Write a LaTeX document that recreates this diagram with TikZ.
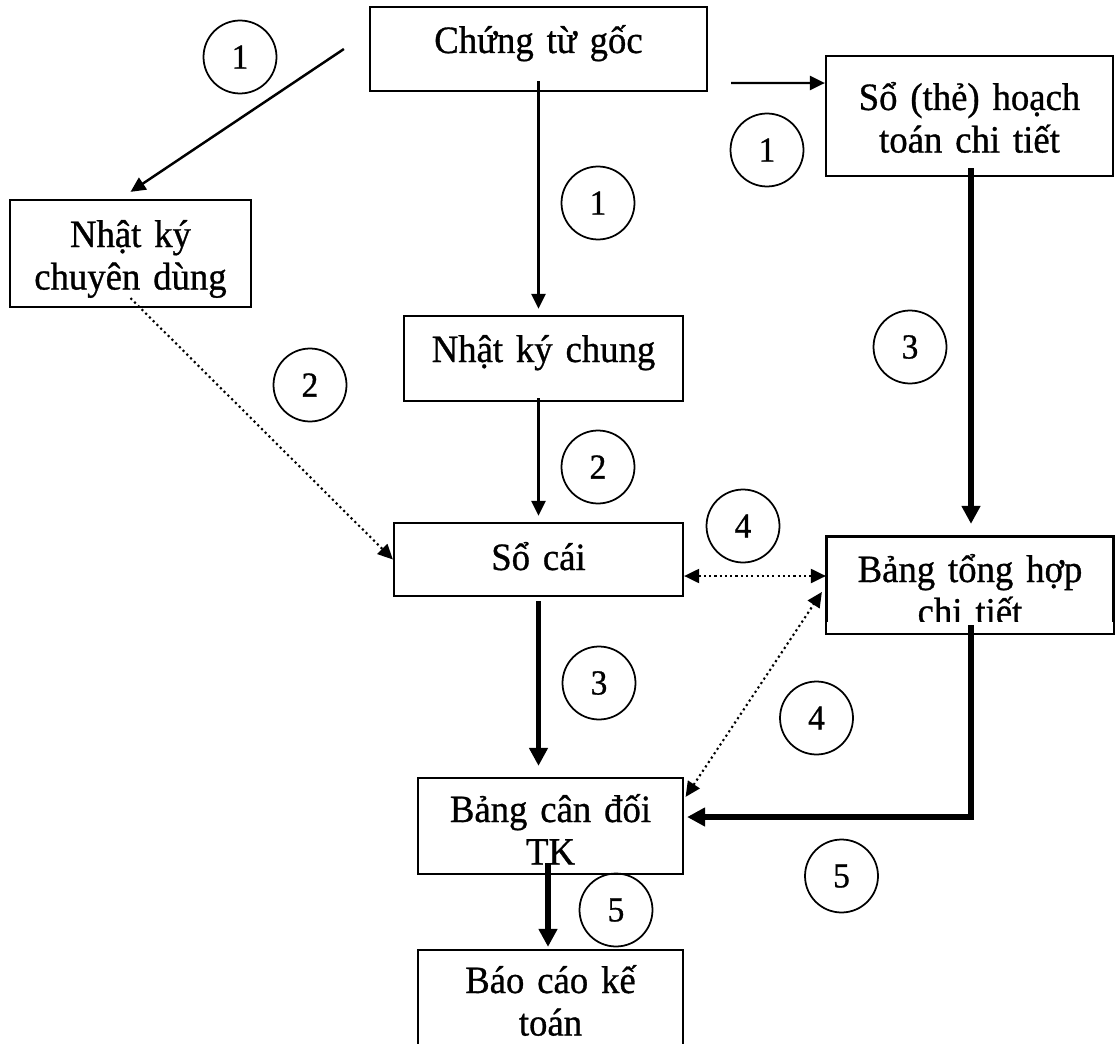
\documentclass[tikz,border=0pt]{standalone}
\usepackage{fontspec}
\setmainfont{Liberation Serif}[FakeStretch=0.95,FakeBold=0.8]
\usetikzlibrary{arrows.meta,calc}

\begin{document}
\begin{tikzpicture}[
    x=0.02cm, y=-0.02cm,
    >={Triangle[length=0.3cm,width=0.28cm]},
    box/.style={rectangle, draw, line width=1.3pt, inner sep=0pt, align=center, font=\fontsize{22pt}{24.2pt}\selectfont},
    num/.style={circle, draw, line width=1pt, minimum size=1.46cm, inner sep=0pt, font=\fontsize{20pt}{22pt}\selectfont},
    arrow/.style={->, line width=1.4pt},
    thickarrow/.style={-{Triangle[length=0.36cm,width=0.36cm]}, line width=3.4pt},
    dotarrow/.style={->, line width=1.2pt, dash pattern=on 1.2pt off 1.8pt}
]
\useasboundingbox (0,0) rectangle (1115,1044);
\clip (0,0) rectangle (1115,1044);

\node[box, minimum width=6.74cm, text width=6.74cm, text height=0.92cm, text depth=0.76cm] (source) at (538.5,49) {Chứng từ gốc};
\node[box, minimum width=5.74cm, text width=5.74cm, text height=1.08cm, text depth=1.32cm] (detail) at (969.5,116) {Sổ (thẻ) hoạch\\toán chi tiết};
\node[box, minimum width=4.82cm, text width=4.82cm, text height=0.94cm, text depth=1.2cm] (special) at (130.5,253.5) {Nhật ký\\chuyên dùng};
\node[box, minimum width=5.58cm, text width=5.58cm, text height=0.92cm, text depth=0.78cm] (journal) at (543.5,358.5) {Nhật ký chung};
\node[box, minimum width=5.78cm, text width=5.78cm, text height=0.94cm, text depth=0.52cm] (ledger) at (538.5,559.5) {Sổ cái};
\begin{scope}
  \clip (800,500) rectangle (1115,621);
  \node[box, minimum width=5.72cm, text width=5.72cm, text height=0.9cm, text depth=1.02cm] (summary) at (970,585) {Bảng tổng hợp\\chi tiết};
\end{scope}
\draw[line width=1.3pt] (summary.north west) rectangle (summary.south east);
\node[box, minimum width=5.3cm, text width=5.3cm, text height=0.88cm, text depth=1.04cm] (trial) at (550.5,826) {Bảng cân đối\\TK};
\node[box, minimum width=5.3cm, text width=5.3cm, text height=0.86cm, text depth=1.74cm] (report) at (550.5,1015) {Báo cáo kế\\toán};

% step numbers
\node[num] (one1) at (240,57) {1};
\node[num] (one2) at (767,150) {1};
\node[num] (one3) at (598,203) {1};
\node[num] (two1) at (310,385) {2};
\node[num] (two2) at (598,467) {2};
\node[num] (three1) at (910,347) {3};
\node[num] (three2) at (599,683) {3};
\node[num] (four1) at (743,526) {4};
\node[num] (four2) at (816.5,718) {4};
\node[num] (five1) at (616,910) {5};
\node[num] (five2) at (841.5,876) {5};

\draw[arrow] ([xshift=-0.5cm]source.west) -- ([yshift=0.14cm]special.north);
\draw[arrow] ($(source.east |- detail.west)+(23,-33)$) -- ([yshift=0.66cm]detail.west);
\draw[arrow] ([yshift=0.22cm]source.south) -- ($(source.south |- journal.north)+(0,-6)$);
\draw[arrow] ($(ledger.north |- journal.south)+(0,-4)$) -- ([yshift=0.12cm]ledger.north);
\draw[dotarrow] ([yshift=0.2cm]special.south) -- (ledger.west);
\draw[dotarrow, <->] ($(ledger.east)+(0,16.5)$) -- ($(ledger.east -| summary.west)+(0,16.5)$);
\draw[dotarrow, <->] ($(trial.north east)+(1.5,20)$) -- ($(summary.west)+(-4,7)$);
\draw[thickarrow] ($(detail.south)+(1.5,-9)$) -- ($(detail.south |- summary.north)+(1.5,-12)$);
\draw[thickarrow] ([yshift=-0.08cm]ledger.south) -- ($(ledger.south |- trial.north)+(0,-11)$);
\draw[thickarrow] ($(summary.south)+(1,-9)$) |- ($(trial.east)+(3,-9)$);
\draw[thickarrow] ($(trial.south)+(-2.5,-12)$) -- ($(report.north)+(-2.5,-2)$);
\end{tikzpicture}
\end{document}
